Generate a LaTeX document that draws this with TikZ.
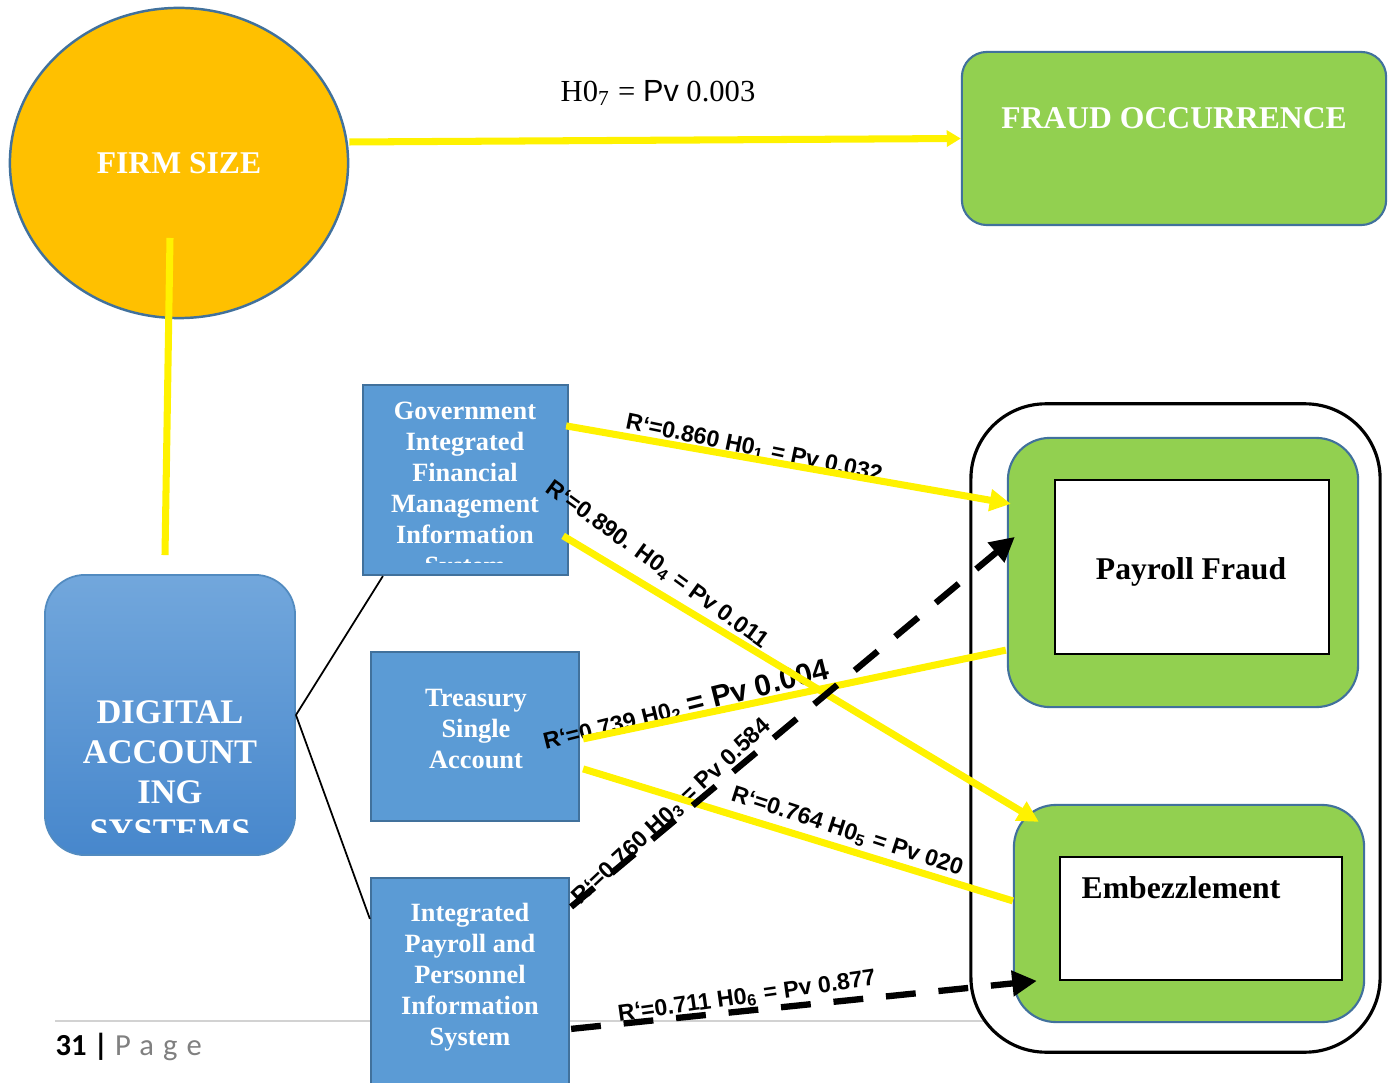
\documentclass[tikz,border=0pt]{standalone}
\usepackage{fontspec}
\setmainfont{Liberation Serif}
\newfontfamily\arialfont{Liberation Sans}
\newfontfamily\footfont{Carlito}
\usetikzlibrary{arrows.meta, positioning, calc, shapes.geometric}
\definecolor{firmorange}{HTML}{FFC000}
\definecolor{fraudgreen}{HTML}{92D050}
\definecolor{boxblue}{HTML}{5B9BD5}
\definecolor{edgeblue}{HTML}{41719C}
\definecolor{dastop}{HTML}{72A7DC}
\definecolor{dasbottom}{HTML}{4787CC}
\colorlet{pathyellow}{yellow}

\begin{document}
\begin{tikzpicture}[x=0.01cm, y=-0.01cm, >=Stealth,
    bluebox/.style={draw=edgeblue, fill=boxblue, line width=0.6pt},
    greenbox/.style={draw=edgeblue, fill=fraudgreen, line width=0.6pt, rounded corners=0.42cm},
    boxtext/.style={text=white, align=center, inner sep=0pt, font=\bfseries\fontsize{7.5}{8.8}\selectfont},
    rlab/.style={inner sep=0pt, font=\arialfont\bfseries\fontsize{6.6}{7}\selectfont},
    yellowline/.style={draw=pathyellow, line width=2pt},
    dashline/.style={draw=black, line width=1.8pt, dash pattern=on 8.5pt off 6.5pt}]
    \useasboundingbox (0,0) rectangle (1389,1083);

    % Page footer
    \draw[gray!35, line width=0.5pt] (55,1021) -- (1100,1021);
    \node[anchor=base west, inner sep=0pt] (pagenum) at (55,1055)
        {\footfont\fontsize{8.7}{9}\selectfont\bfseries 31 | \mdseries\color{gray}\addfontfeatures{LetterSpace=30}Page};

    % Outer frame round the two outcomes
    \node[draw=black, fill=white, line width=0.9pt, rounded corners=0.75cm,
          minimum width=4.09cm, minimum height=6.48cm] (frame) at (1175.5,728) {};

    % Payroll fraud and embezzlement
    \node[greenbox, minimum width=3.5cm, minimum height=2.69cm] (payroll) at (1183,572.5) {};
    \node[draw=black, fill=white, line width=0.6pt, minimum width=2.74cm, minimum height=1.74cm] (payrollin) at (1192,567) {};
    \node[font=\bfseries\fontsize{9}{10}\selectfont] (payrolltxt) at (1191,572) {Payroll Fraud};

    \node[greenbox, minimum width=3.5cm, minimum height=2.17cm] (emb) at (1189,913.5) {};
    \node[draw=black, fill=white, line width=0.6pt, minimum width=2.82cm, minimum height=1.23cm] (embin) at (1201,918.5) {};
    \node[font=\bfseries\fontsize{9}{10}\selectfont] (embtxt) at (1181,888) {Embezzlement};

    % Firm size and fraud occurrence
    \node[ellipse, draw=edgeblue, fill=firmorange, line width=0.7pt,
          minimum width=3.38cm, minimum height=3.1cm] (firm) at (179,163) {};
    \node[text=white, font=\bfseries\fontsize{9}{10}\selectfont] (firmtxt) at (179,163) {FIRM SIZE};

    \node[greenbox, rounded corners=0.25cm, minimum width=4.24cm, minimum height=1.73cm] (fraud) at (1174,138.5) {};
    \node[text=white, font=\bfseries\fontsize{9}{10}\selectfont] (fraudtxt) at (1174,118) {FRAUD OCCURRENCE};

    % Digital accounting systems
    \node[draw=boxblue!90!black, top color=dastop, bottom color=dasbottom, line width=0.5pt,
          rounded corners=0.4cm, minimum width=2.5cm, minimum height=2.8cm] (das) at (170,715) {};
    \begin{scope}
        \clip (45,575) rectangle (295,832);
        \node[text=white, align=center, inner sep=0pt, font=\bfseries\fontsize{9.8}{11.3}\selectfont]
            (dastxt) at (170,772) {DIGITAL\\ACCOUNT\\ING\\SYSTEMS};
    \end{scope}

    % The three systems
    \node[bluebox, minimum width=2.05cm, minimum height=1.9cm] (gifmis) at (465.5,480) {};
    \begin{scope}
        \clip (363,385) rectangle (568,563);
        \node[boxtext] (gifmistxt) at (465,491) {Government\\Integrated\\Financial\\Management\\Information\\System};
    \end{scope}

    \node[bluebox, minimum width=2.08cm, minimum height=1.69cm] (tsa) at (475,736.5) {};
    \node[boxtext] (tsatxt) at (476,729) {Treasury\\Single\\Account};

    \node[bluebox, minimum width=1.98cm, minimum height=2.2cm] (ippis) at (470,988) {};
    \node[boxtext] (ippistxt) at (470,977) {Integrated\\Payroll and\\Personnel\\Information\\System};

    % Thin links from the digital systems
    \draw[black, line width=0.5pt] (das.east) -- ($(gifmis.south west)+(21,0)$);
    \draw[black, line width=0.5pt] (das.east) -- ($(ippis.north west)+(0,42)$);

    % Firm size paths
    \draw[yellowline] ($(firm.center)+(-9,75)$) -- ($(das.north)+(-5,-19)$);
    \draw[yellowline, -{Triangle[length=4pt, width=4.5pt]}] ($(firm.east)+(0,-21)$) -- (fraud.west);
    \node[inner sep=0pt, font=\fontsize{8.7}{9}\selectfont] (h7) at (658,93)
        {H0\textsubscript{7} = {\arialfont Pv} 0.003};

    % Labels on the paths
    \node[rlab, rotate=-11.7] (h1) at (754,449) {R‘=0.860 H0\textsubscript{1} = Pv 0.032};
    \node[rlab, rotate=-36] (h4) at (657,565) {R‘=0.890. H0\textsubscript{4} = Pv 0.011};
    \node[rlab, rotate=14] (h2) at (686,706) {R‘=0.739 H0\textsubscript{2} {\fontsize{8.5}{9}\selectfont = Pv 0.004}};
    \node[rlab, rotate=-18] (h5) at (847,832) {R‘=0.764 H0\textsubscript{5} = Pv 020};
    \node[rlab, rotate=43] (h3) at (672,812) {R‘=0.760 H0\textsubscript{3} = Pv 0.584};
    \node[rlab, rotate=8] (h6) at (747,997) {R‘=0.711 H0\textsubscript{6} = Pv 0.877};

    % Yellow paths to the outcomes
    \draw[yellowline, -{Triangle[length=6pt, width=6pt]}] ($(gifmis.north east)+(-3,42)$) -- ($(payroll.north west)+(4,67)$);
    \draw[yellowline, -{Triangle[length=6pt, width=6pt]}] ($(gifmis.north east)+(-6,152)$) -- ($(emb.north west)+(26,18)$);
    \draw[yellowline] ($(tsa.north east)+(3,88)$) -- ($(payroll.south west)+(-1,-58)$);
    \draw[yellowline] ($(tsa.north east)+(3,118)$) -- ($(emb.north west)+(0,97)$);

    % Dashed paths from the payroll system
    \draw[dashline, -{Triangle[length=7pt, width=7pt]}] ($(ippis.north east)+(1,30)$) -- ($(payroll.north west)+(8,100)$);
    \draw[dashline, -{Triangle[length=7pt, width=7pt]}] ($(ippis.north east)+(1,152)$) -- ($(emb.north west)+(24,177)$);
\end{tikzpicture}
\end{document}
